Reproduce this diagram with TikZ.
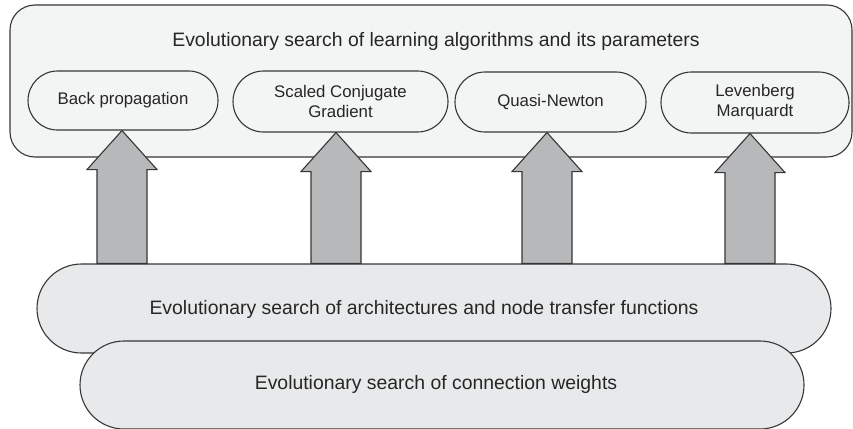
\documentclass[tikz,border=0pt]{standalone}
\usepackage{fontspec}
\setmainfont{Liberation Sans}
\usetikzlibrary{shapes.misc,calc}

\definecolor{edge}{HTML}{363636}
\definecolor{panelfill}{HTML}{F3F4F4}
\definecolor{layerfill}{HTML}{E8E9EA}
\definecolor{arrowfill}{HTML}{B7B8BA}

\tikzset{
  panel/.style={draw=edge, line width=1.1pt, fill=panelfill, rounded corners=25pt,
    inner sep=0pt},
  algo/.style={draw=edge, line width=1.1pt, fill=panelfill, rounded rectangle,
    inner sep=0pt, align=center, text=black!85, font=\fontsize{16.8}{20}\selectfont},
  layer/.style={draw=edge, line width=1.1pt, fill=layerfill, rounded rectangle,
    inner sep=0pt},
  bigtext/.style={inner sep=0pt, font=\fontsize{19.4}{23}\selectfont, text=black!85},
  blockarrow/.style={draw=edge, line width=1.1pt, fill=arrowfill, line join=miter},
}

% block arrow from the top of a layer (#2) up to an algorithm box (#1)
\newcommand\uparrowblock[3]{%
  \draw[blockarrow] let \p1=([xshift=#3]#1.south), \p2=(#2.north) in
    (\x1,\y1) -- (\x1+35pt,\y1-39pt) -- (\x1+25pt,\y1-39pt) -- (\x1+25pt,\y2)
    -- (\x1-25pt,\y2) -- (\x1-25pt,\y1-39pt) -- (\x1-35pt,\y1-39pt) -- cycle;}

\begin{document}
\begin{tikzpicture}[x=1pt,y=-1pt]
  \useasboundingbox (0,0) rectangle (853,428);

  % outer panel with the learning algorithms
  \node[panel, minimum width=842pt, minimum height=152pt] (top) at (431,81) {};
  \node[bigtext] (title) at (436,41) {Evolutionary search of learning algorithms and its parameters};

  \node[algo, minimum width=190pt, minimum height=59pt] (bp) at (123,100.5) {Back propagation};
  \node[algo, minimum width=215pt, minimum height=61pt] (scg) at (340.5,101.5) {Scaled Conjugate\\Gradient};
  \node[algo, minimum width=191pt, minimum height=60pt] (qn) at (550.5,102) {Quasi-Newton};
  \node[algo, minimum width=188pt, minimum height=61pt] (lm) at (755,102.5) {Levenberg\\Marquardt};

  % lower layers
  \node[layer, minimum width=794pt, minimum height=89pt] (arch) at (434,308.5) {};
  \node[bigtext] (archtext) at (424,309) {Evolutionary search of architectures and node transfer functions};
  \node[layer, minimum width=724pt, minimum height=88pt] (conn) at (442,385) {};
  \node[bigtext] (conntext) at (436,384) {Evolutionary search of connection weights};

  % block arrows
  \uparrowblock{bp}{arch}{-1pt}
  \uparrowblock{scg}{arch}{-4.5pt}
  \uparrowblock{qn}{arch}{-3.5pt}
  \uparrowblock{lm}{arch}{-5pt}
\end{tikzpicture}
\end{document}
